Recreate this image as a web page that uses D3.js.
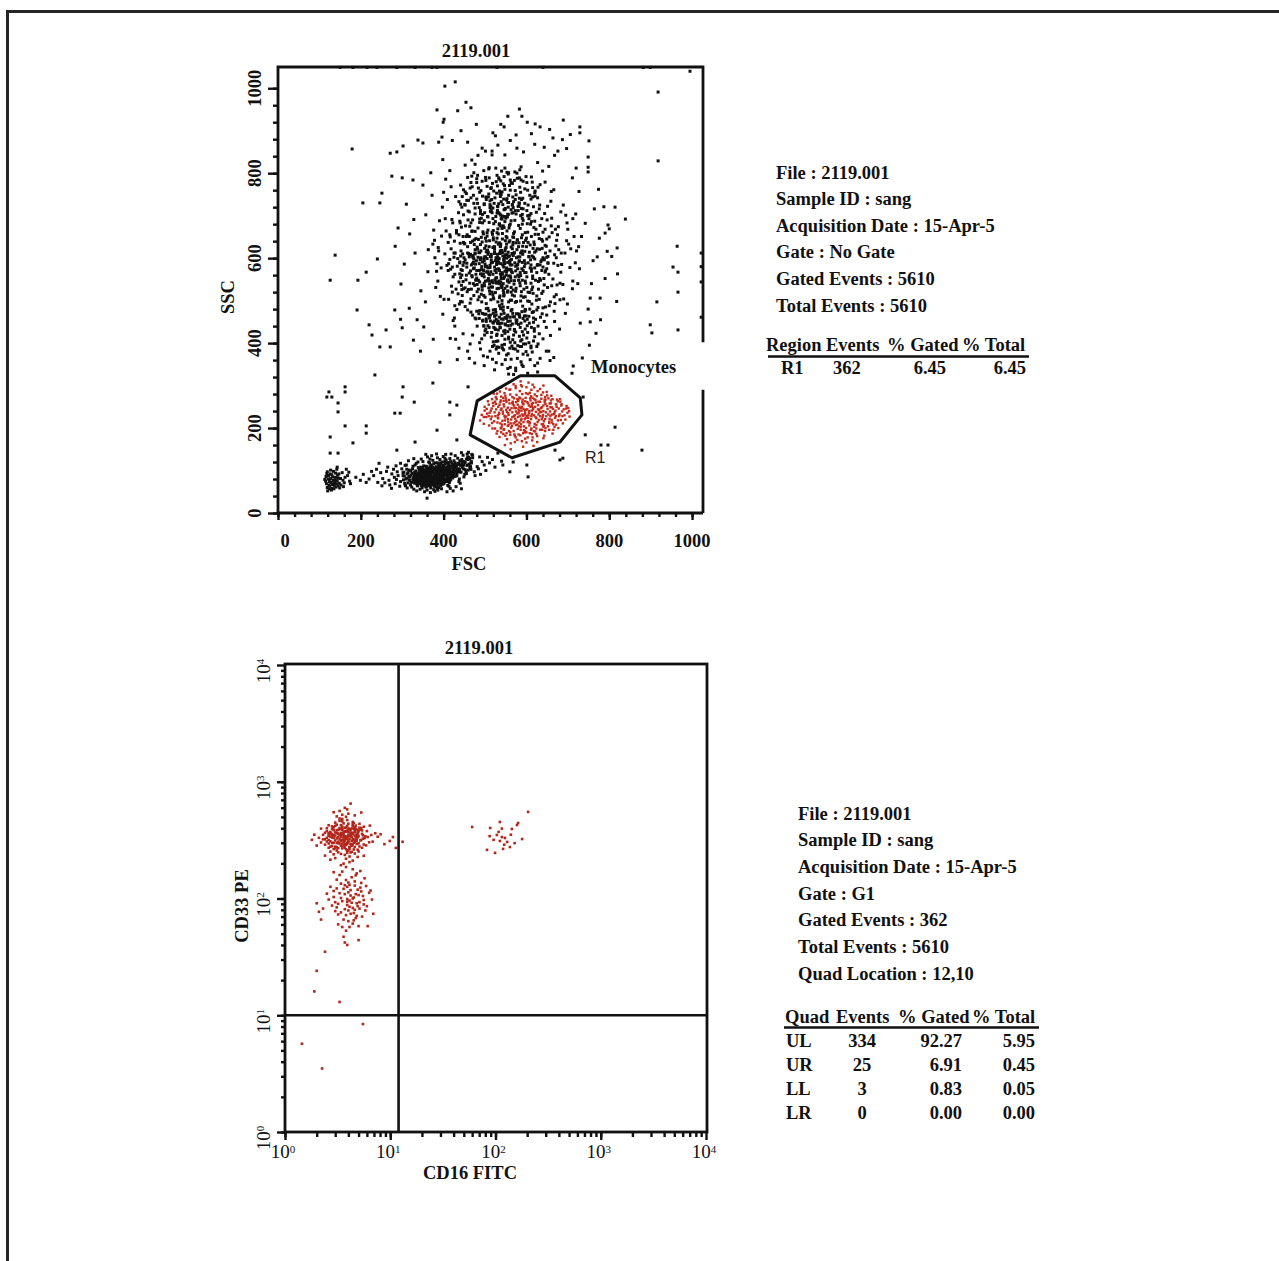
<!DOCTYPE html>
<html>
<head>
<meta charset="utf-8">
<script src="https://cdn.jsdelivr.net/npm/d3@7"></script>
<style>
  html, body { margin: 0; padding: 0; background: #fff; }
  svg { display: block; }
  text { font-family: "Liberation Serif", "Times New Roman", serif; }
</style>
</head>
<body>
<svg id="chart" width="1279" height="1261"></svg>
<script>
// ---------------- data ----------------
const fileName = "2119.001";

// FSC / SSC axis ticks
const fscTicks = [0, 200, 400, 600, 800, 1000];
const sscTicks = [0, 200, 400, 600, 800, 1000];

// log decades for CD16 / CD33
const decadeTicks = [1, 10, 100, 1000, 10000];
const decadeExponents = ["0", "1", "2", "3", "4"];

// R1 (monocyte) gate vertices, [FSC, SSC]
const r1Gate = [[464, 184], [481, 264], [585, 323], [669, 323], [730, 271], [734, 231], [681, 167], [565, 130]];

// quadrant markers [CD16, CD33]
const quadLocation = [12, 10];

// ungated events, flat [FSC, SSC, FSC, SSC, ...]
const granulocytes = [
512,578,547,603,498,541,566,622,531,497,585,566,476,612,553,534,520,648,604,589,
489,563,538,587,571,511,502,629,545,552,467,584,593,637,526,473,558,671,515,604,
481,521,540,618,577,583,509,546,556,590,495,662,622,548,533,529,462,603,569,649,
527,566,503,493,549,641,588,521,472,575,536,611,518,532,561,558,497,598,614,605,
544,485,507,577,580,603,490,617,529,544,563,626,475,536,551,571,612,569,521,681,
534,599,484,548,571,547,511,523,595,594,458,627,542,563,523,614,576,498,505,652,
548,529,494,591,616,623,537,676,468,559,559,605,513,466,584,542,528,589,499,535,
565,584,519,625,452,596,546,513,590,655,506,568,538,544,474,643,601,531,530,609,
557,558,486,509,524,571,568,637,501,603,633,584,541,492,517,547,579,575,492,580,
535,636,463,541,552,600,508,614,587,511,526,553,545,579,481,626,599,566,514,502,
570,612,498,556,532,588,555,466,517,661,606,604,477,586,541,535,523,626,563,573,
489,598,548,617,511,539,582,592,536,511,465,570,597,546,527,600,553,648,504,581,
539,557,575,529,493,638,519,514,561,595,542,658,484,527,609,577,528,541,551,625,
507,609,589,614,471,604,533,575,558,543,515,589,620,598,496,572,546,593,573,556,
522,627,480,553,565,611,538,483,501,546,592,571,529,660,554,520,487,613,611,541,
543,605,509,563,575,636,525,519,561,584,493,532,537,627,584,603,473,598,552,567,
516,545,600,627,531,602,564,501,499,623,547,587,478,562,520,665,586,559,535,540,
445,512,629,656,468,663,598,478,536,704,521,437,649,602,458,478,572,689,503,451,
612,651,439,589,555,441,487,684,643,537,530,712,476,459,590,694,451,634,567,462,
506,698,625,511,460,526,541,447,581,677,494,470,638,623,517,707,455,560,603,499,
563,688,483,502,646,570,527,456,442,617,577,453,510,684,620,687,491,649,548,423,
635,592,470,690,554,697,447,545,597,660,532,431,480,475,617,474,514,722,583,467,
462,651,544,676,608,519,497,441,640,661,525,686,456,588,571,432,604,637,487,692,
573,712,439,563,523,452,627,585,466,504,559,677,499,707,615,558,548,460,453,676,
591,487,533,728,474,632,652,588,507,482,565,706,486,458,631,503,541,670,460,611,
519,693,598,642,444,526,576,469,510,437,637,644,483,671,555,484,620,614,470,587,
546,714,502,468,642,552,465,609,586,700,530,448,610,680,491,515,567,650,449,601,
613,526,478,646,556,703,520,470,596,616,441,554,539,693,629,545,505,660,575,447,
457,521,590,680,528,418,648,628,494,683,560,461,623,668,472,540,542,699,602,456,
512,719,637,596,466,473,582,722,549,445,455,651,619,632,500,429,568,719,486,571,
632,621,520,507,448,637,593,508,535,681,476,610,606,693,557,410,491,694,645,567,
412,587,684,612,538,782,401,503,563,362,712,546,445,745,621,758,489,386,668,451,
395,652,557,801,702,633,427,440,614,379,469,768,690,504,383,569,527,354,651,722,
436,707,601,778,388,617,677,674,512,381,421,520,583,789,718,589,464,398,640,410,
547,771,398,468,695,701,456,736,625,392,379,601,533,376,660,757,415,655,578,364,
707,622,490,759,432,479,655,488,572,803,404,693,518,362,688,538,447,422,615,744,
386,546,603,372,480,778,673,642,541,350,425,612,728,575,501,790,644,705,458,381,
617,459,409,738,561,784,694,470,374,633,522,395,666,761,440,683,589,349,473,729,
700,668,392,510,548,812,658,418,417,574,506,367,633,773,452,756,721,617,568,387,
431,659,681,502,515,766,397,720,627,353,470,419,712,693,556,798,384,587,649,466,
494,746,606,401,423,453,685,585,533,789,376,666,659,734,462,364,587,815,711,528,
403,610,574,341,645,779,448,702,697,641,527,404,418,768,619,434,482,795,672,601,
549,361,390,688,733,651,509,810,628,767,437,388,593,419,699,492,459,711,661,694,
381,531,566,776,475,353,689,725,411,637,540,805,654,381,427,562,719,704,496,370,
612,791,445,497,674,537,523,337,400,755,596,763,466,742,705,578,555,340,434,599,
640,483,378,642,502,783,693,612,416,411,584,808,670,668,441,727,529,391,724,540,
463,675,621,746,394,577,557,327,683,709,487,401,639,805,406,664,592,345,715,651,
535,758,426,459,667,475,510,813,452,725,609,361,387,625,698,683,579,394,473,801,
652,589,498,347,420,691,587,784,726,627,443,536,563,778,680,433,408,583,631,716,
331,612,776,647,458,873,612,893,352,438,790,552,297,539,538,915,720,812,398,832,
749,480,372,748,643,861,318,657,483,842,806,604,561,877,345,523,697,858,421,877,
764,716,305,586,589,934,357,702,752,395,479,915,668,842,336,455,800,669,415,806,
283,628,531,866,761,594,369,801,706,891,344,381,593,850,820,563,452,819,730,447,
388,873,656,903,317,482,774,762,501,852,240,598,735,365,429,409,620,868,362,568,
787,721,466,954,328,691,711,789,555,934,391,355,742,682,296,456,627,825,517,843,
356,497,689,925,405,786,768,423,442,900,310,727,654,816,818,498,375,409,583,951,
727,757,476,821,350,772,795,616,525,888,290,671,666,366,433,361,757,540,401,927,
839,692,548,843,363,620,710,329,434,947,687,879,327,407,602,920,779,455,468,831
];

// densest part of the granulocyte cloud
const granulocyteCore = [
541,566,518,590,563,547,497,571,586,612,529,528,552,633,508,552,574,581,535,507,
490,601,559,574,523,621,601,556,546,592,481,538,568,525,532,657,512,583,590,590,
555,549,503,615,578,643,538,481,620,577,519,562,549,608,472,590,594,527,527,638,
564,597,487,544,545,519,609,631,515,596,535,571,571,662,500,508,582,556,548,686,
524,549,606,603,476,620,557,497,533,599,590,548,511,641,567,609,496,563,544,540,
579,585,521,504,553,664,486,587,615,552,537,628,563,520,506,619,585,670,528,574,
547,603,469,556,597,587,515,532,560,641,539,552,489,632,573,496,523,611,604,520,
552,577,498,594,581,627,535,488,518,656,566,566,509,530,591,609,542,645,480,571,
570,539,530,593,612,575,501,647,556,614,545,511,483,602,588,648,526,543,561,680,
514,568,598,541,537,617,576,601,493,525,551,560,623,617,531,669,505,599,566,513,
543,584,582,636,478,549,559,592,520,478,610,596,534,546,496,657,574,570,549,622,
527,601,563,531,501,580,589,575,541,692,512,516,577,620,485,613,554,546,618,638,
537,563,493,536,569,658,545,597,510,627,597,509,528,585,556,603,474,577,583,594,
519,542,603,661,548,569,488,596,565,479,532,633,581,548,507,666,542,613,591,628,
560,588,497,512,626,583,523,579,551,651,574,522,515,609,539,537,484,644,568,606,
533,591,589,617,507,548,555,523,470,606,546,672,596,566,521,625,562,554,500,586,
578,643,540,531,513,604,572,589,493,559,553,608,615,532,529,647,561,501,482,621,
547,556,600,647,525,594,564,568,503,640,586,499,536,612,491,573,558,638,544,524,
511,561,571,613,534,679,595,580,517,520,549,589,479,594,607,614,528,554,567,631,
556,572,499,603,585,535,520,643,541,500,611,584,538,633,504,567,579,560,550,694,
462,565,632,552,526,698,597,479,458,612,618,672,509,465,575,704,447,583,640,601,
535,461,592,689,470,640,629,527,513,710,561,452,454,549,603,700,487,476,645,630,
548,715,467,527,624,501,498,688,583,463,441,605,566,725,519,449,637,571,476,663,
596,475,530,722,456,579,612,686,503,481,580,712,465,637,634,548,544,456,489,705,
621,656,452,530,557,731,495,454,607,498,471,602,588,717,536,438,643,596,512,726,
464,494,631,646,523,463,573,738,444,560,616,517,486,719,599,464,457,655,562,442,
640,579,508,744,592,458,466,683,626,622,497,440,553,740,439,591,611,705,525,432,
473,512,583,729,450,634,628,484,539,750,485,469,617,602,459,690,571,430,604,725,
529,706,492,497,646,612,545,428,462,608,602,681,516,738,637,517,478,548,587,447,
555,703,503,457,625,566,469,664,591,741,531,446,442,573,613,492,498,726,649,645
];

// lower funnel, upper band and flanks of the granulocyte cloud
const granulocyteRim = [
532,452,571,431,498,468,607,447,548,409,589,474,516,425,634,461,560,388,525,479,
583,416,507,441,619,428,553,463,541,395,596,452,478,457,572,401,614,472,537,436,
566,445,520,403,601,412,488,476,628,440,555,427,579,381,511,459,643,451,546,470,
593,398,529,421,563,476,617,405,502,433,585,437,545,384,631,422,571,462,520,447,
557,414,606,463,481,440,540,457,588,392,625,478,515,414,574,426,549,443,599,380,
534,390,612,437,567,408,494,452,580,469,527,466,648,437,556,375,603,425,541,418,
576,448,509,476,622,456,548,430,589,408,470,466,565,393,531,405,611,393,584,461,
552,458,597,433,518,392,638,469,569,419,505,425,581,444,544,477,620,415,561,402,
536,446,608,480,573,386,499,419,590,427,555,451,628,398,524,435,567,470,547,397,
586,405,513,452,602,441,560,433,539,468,617,449,492,410,575,455,527,386,595,464,
512,735,548,762,476,718,583,741,529,795,455,752,601,712,538,701,493,781,566,726,
521,758,437,733,578,788,549,717,502,744,615,766,468,793,557,748,531,721,590,703,
484,765,545,739,608,748,462,709,527,780,573,759,498,728,632,725,553,802,515,713,
569,733,441,772,536,752,592,781,507,697,559,771,480,739,624,708,543,726,497,806,
586,755,524,742,451,726,563,714,505,769,611,739,534,786,472,748,580,722,547,698,
518,776,596,729,464,765,539,733,577,800,489,712,620,754,552,737,429,745,571,783,
509,751,556,720,480,787,603,760,533,707,460,736,588,738,526,812,617,721,544,775,
494,703,567,744,522,729,448,761,599,792,541,756,476,704,584,767,510,789,627,742,
555,731,487,755,530,770,608,701,466,778,575,749,519,718,592,716,444,720,546,792,
503,738,561,760,482,729,537,745,614,779,458,790,582,730,514,764,568,707,528,753,
428,612,445,571,652,604,664,551,437,655,633,677,419,534,658,497,441,498,671,629,
433,581,649,575,426,640,662,660,448,528,640,522,415,597,676,583,439,687,655,650,
423,556,668,608,446,610,637,693,412,503,681,541,431,665,646,485,452,486,660,676,
437,544,654,562,418,622,672,514,443,673,639,640,427,488,666,588,449,590,651,531,
421,579,678,620,435,516,645,668,416,650,669,493,440,635,657,617,425,602,683,567,
430,527,661,535,447,651,642,598,411,571,675,655,438,492,650,690,422,683,667,509
];

const lymphocytes = [
372,84,358,79,391,92,345,76,366,88,403,97,381,81,350,71,397,86,362,93,
377,77,414,101,339,82,385,95,369,73,356,87,408,89,392,79,347,90,374,99,
361,68,388,85,420,94,334,74,379,91,352,83,398,103,366,78,411,84,343,69,
383,72,370,95,426,106,355,80,393,88,337,87,405,78,364,101,380,66,417,92,
349,93,387,99,359,74,399,82,331,79,376,86,412,109,368,70,394,94,344,85,
385,80,362,82,429,99,353,66,402,92,371,104,340,78,396,73,419,87,357,97,
378,89,336,71,409,96,365,84,389,76,348,101,423,114,374,69,400,107,358,90,
341,84,382,98,415,83,351,77,393,67,367,92,329,88,406,101,376,80,433,103,
360,99,386,71,346,65,401,88,371,77,421,97,333,92,392,109,355,73,410,79,
379,102,343,80,398,91,363,64,431,110,350,88,387,83,368,108,413,94,338,75,
390,69,357,92,404,115,326,81,375,94,418,88,361,75,395,99,347,68,383,87,
436,104,354,85,407,74,372,97,339,94,398,112,366,67,425,93,386,104,352,72,
319,77,380,76,412,98,345,98,392,85,369,113,429,87,357,62,402,80,337,86,
384,94,363,87,441,112,349,81,395,72,374,107,416,104,330,70,388,113,356,101,
408,85,342,89,377,71,420,117,366,96,399,95,328,84,391,66,350,107,438,97,
371,82,385,118,346,73,411,91,360,109,394,86,324,93,379,63,427,107,354,94,
401,100,368,89,336,66,389,94,417,78,348,84,382,109,445,108,359,68,405,118,
373,75,322,72,396,104,364,99,432,95,341,101,387,74,413,111,353,79,376,116,
444,117,358,86,399,69,369,91,335,79,410,103,381,92,349,64,424,101,363,105,
392,90,330,96,378,84,414,72,346,92,403,121,372,67,437,114,357,83,386,79,
316,85,398,98,365,73,428,118,342,75,389,107,375,100,409,86,351,96,384,65,
419,96,361,80,333,83,396,80,370,111,446,121,355,69,407,106,338,91,393,118,
380,93,422,83,347,103,367,86,401,74,329,76,384,101,439,103,362,95,412,115,
354,76,391,103,373,80,431,88,344,94,397,120,368,63,415,99,358,110,386,85,
448,113,340,70,404,94,376,105,321,89,394,77,362,88,426,110,350,100,382,71,
408,108,366,102,435,100,344,87,389,96,371,74,417,121,355,91,398,83,332,81
];

// outer part of the lymphocyte blob
const lymphocytesOuter = [
387,88,363,95,412,79,341,83,396,104,375,66,427,98,352,111,405,92,369,59,
318,86,444,126,381,75,356,101,432,89,393,117,337,64,419,110,365,80,401,70,
452,119,347,93,388,60,309,80,425,123,372,109,410,65,333,99,458,132,384,97,
360,54,415,128,327,74,397,82,442,96,350,121,379,51,463,128,339,107,406,125,
314,95,390,72,436,117,358,61,421,83,306,70,374,124,448,104,343,56,399,133,
331,113,416,58,366,118,456,112,323,61,385,130,438,80,353,70,468,138,302,88,
395,57,346,127,428,135,377,93,311,103,451,91,361,132,414,74,335,52,467,121,
383,139,320,66,440,70,355,84,405,138,328,128,459,101,368,48,422,106,392,96,
344,77,411,119,304,96,447,136,376,55,430,62,338,120,461,115,357,138,400,111,
325,104,391,126,449,85,370,86,312,59,434,129,348,59,408,50,465,109,380,118,
336,92,418,90,362,72,443,142,307,112,386,54,429,114,351,88,470,130,393,64,
315,123,403,129,367,127,437,74,328,56,454,97,382,107,423,52,342,101,460,143,
398,68,317,78,445,113,371,135,334,117,413,63,359,106,439,123,387,79,308,64,
426,86,345,108,464,104,378,63,402,100,330,90,455,127,364,120,418,139,354,50,
390,112,321,99,433,103,373,99,443,57,340,72,409,84,466,118,384,58,326,110
];

const lymphTail = [
452,102,467,118,481,109,459,126,493,121,474,97,506,131,463,110,487,132,518,126,
455,93,498,113,470,136,531,141,484,104,511,118,461,131,476,88,540,122,502,100,
449,121,524,108,489,91,466,103,457,139,
296,74,311,82,283,69,302,95,268,77,290,88,307,66,275,92,253,81,299,104,
314,71,286,79,262,98,305,87,241,72,279,103,310,113,294,63,231,88,270,66,
288,97,248,95,317,101,258,71,303,78,220,80,281,84,312,92,265,108,296,117,
206,91,238,103,274,58,199,77,251,64,226,98,188,84,244,117,213,72,285,111
];

const debris = [
128,72,136,65,121,80,143,76,131,58,117,69,139,84,125,63,148,70,133,77,
122,88,140,61,129,54,146,82,115,75,135,71,152,66,126,92,119,60,138,78,
131,67,144,89,124,74,157,77,120,52,141,69,134,98,127,81,149,59,116,86,
137,73,162,84,130,90,145,64,123,66,155,95,142,103,118,93,160,71,135,57,
168,88,127,101,151,81,113,79,173,75,139,94,165,103,124,57,147,92,132,85,
171,96,158,62,119,97,175,69,143,108
];

const scatterEvents = [
403,1005,428,1015,454,967,384,949,399,920,396,885,918,991,918,829,179,857,546,909,
621,916,633,909,519,895,575,890,729,909,729,895,751,876,664,883,577,859,517,852,
493,859,676,852,338,878,350,871,271,847,287,850,302,864,749,838,749,814,749,803,
814,720,205,730,246,730,251,753,275,793,300,789,326,784,
150,1049,181,1049,215,1049,239,1049,287,1049,331,1049,372,1049,384,1049,529,1049,640,1049,882,1049,899,1049,995,1040,
138,607,126,548,193,548,213,567,191,478,220,443,227,419,246,391,261,431,234,325,
271,391,282,478,300,436,123,285,130,273,118,273,145,259,162,297,162,285,145,238,
302,297,300,273,282,235,295,235,964,628,966,567,966,520,915,497,899,443,903,424,
966,431,954,579,754,506,754,450,778,506,819,624,790,659,797,678,771,603,713,346,
737,273,415,261,432,254,459,297,415,231,374,306,329,261,
1022,612,1022,544,1022,461,1022,580,
126,179,162,205,181,165,213,205,213,188,126,141,145,141,331,167,287,148,384,195,
432,172,360,35,814,202,879,148,742,184,797,160,669,148,688,129,681,125,604,85,
601,113,568,120,560,97,543,113,780,160,
552,372,587,356,611,389,574,335,633,364,598,398,561,343,648,381,620,347,585,392,
603,329,542,388,657,359,627,332,569,326,592,374
];

// the 362 events inside R1, [FSC, SSC]
const r1Scatter = [
598,224,551,243,642,205,574,178,619,268,530,213,662,232,587,301,503,226,608,188,
566,259,683,219,545,196,627,287,592,156,520,252,655,196,581,236,614,171,539,274,
603,214,671,256,557,208,636,238,499,241,585,270,624,199,562,164,699,236,547,229,
613,252,579,198,650,277,528,187,596,241,641,176,517,268,672,208,559,290,605,230,
583,213,633,262,546,251,690,244,571,185,615,302,534,233,656,222,597,175,510,206,
622,226,561,279,645,193,591,258,488,218,676,263,553,174,608,212,569,303,637,249,
542,217,599,282,663,187,524,262,586,203,644,266,575,247,617,158,505,234,679,228,
594,195,556,235,630,219,612,290,538,199,661,249,580,267,548,160,704,227,569,211,
640,209,521,281,602,244,585,183,653,270,540,246,626,181,497,210,611,275,572,230,
574,294,662,213,530,193,616,247,588,222,685,256,551,265,633,196,516,227,600,166,
647,237,563,201,605,307,527,244,677,200,589,250,549,182,623,260,492,231,659,258,
583,240,640,284,555,221,612,199,536,286,668,237,578,172,604,258,518,199,688,211,
627,214,564,247,596,190,651,245,544,271,618,230,575,207,701,247,531,224,600,296,
561,190,636,269,590,232,509,255,645,221,567,262,624,186,548,209,674,267,594,204,
613,241,539,296,658,229,579,255,522,216,641,203,572,167,608,283,553,238,692,230,
587,218,631,243,545,264,665,196,598,271,514,241,620,210,566,226,650,252,535,179,
606,236,678,246,558,193,625,275,581,244,497,226,639,226,592,188,547,282,663,268,
573,222,618,193,535,255,597,263,655,212,562,211,680,232,523,237,611,221,584,287,
646,257,551,227,603,178,629,232,570,270,694,220,540,202,616,259,587,209,507,263,
633,292,578,234,562,150,657,239,526,273,601,229,643,182,555,248,672,256,590,262,
517,212,610,250,569,193,637,221,543,239,686,239,599,200,561,291,622,266,580,226,
652,204,532,250,593,245,615,178,548,218,669,224,576,278,604,216,504,245,641,240,
566,237,628,254,589,169,538,265,659,265,612,228,555,205,697,252,583,250,524,199,
619,203,574,299,640,231,544,186,606,253,665,209,531,230,597,236,682,262,559,258,
635,247,578,208,514,221,649,285,592,229,626,167,550,270,604,280,670,241,538,243,
586,196,661,219,570,253,613,233,499,250,645,273,557,231,621,192,580,264,703,240,
541,208,596,221,656,258,528,268,610,265,572,182,637,209,551,293,588,241,676,218,
620,279,563,220,600,190,534,236,673,250,583,272,648,228,546,197,616,244,509,228,
593,256,638,196,558,266,687,228,576,217,624,223,519,259,607,206,660,276,571,247,
548,225,629,262,590,280,667,233,537,211,613,186,575,239,641,253,526,257,599,243,
655,215,565,205,619,296,584,229,545,256,696,246,602,261,561,184,632,237,511,236,
578,268,646,200,593,214,529,281,664,245,607,240,552,262,624,207,570,228,681,268,
539,190,615,271,587,247,653,232,516,246,597,193,636,278,566,273,604,224,543,234,
671,228,581,185,621,250,556,215,642,216,589,298,525,228,609,270,567,256,658,249,
596,232,549,276,633,228,575,261,611,196,684,253,537,261,623,238,582,204,646,267,
560,242,607,214,668,203,532,223,591,267,628,244,552,188,644,261,573,214,613,257,
586,310,641,300
];

// the same 362 gated events, [CD16 FITC, CD33 PE]
const g1Markers = [
3.7,331,3.2,298,4.4,362,2.9,407,4.1,276,3.5,389,5.2,315,2.6,344,3.9,256,4.7,421,
3.3,352,4.0,309,2.8,281,4.9,371,3.6,440,3.1,327,5.6,290,4.3,338,2.5,378,3.8,264,
4.5,395,3.4,312,2.7,361,4.2,248,3.0,419,5.0,342,3.7,287,4.6,305,2.4,322,3.9,470,
3.2,270,4.8,327,3.5,356,2.9,239,4.1,384,5.4,358,3.6,318,2.6,296,4.4,453,3.3,392,
4.0,341,2.8,333,5.1,279,3.7,403,3.1,258,4.6,369,2.3,351,3.9,300,4.3,283,6.1,336,
3.4,425,4.7,311,2.7,309,3.8,374,5.3,401,3.0,346,4.1,229,3.5,295,2.5,400,4.9,262,
3.6,349,4.4,432,3.2,386,2.9,265,5.7,329,3.9,323,4.2,355,2.6,272,3.3,484,4.8,293,
3.7,272,5.0,376,2.8,415,4.0,397,3.4,241,4.5,318,3.1,364,6.3,303,3.8,339,2.4,289,
4.3,312,3.5,458,5.5,348,2.9,330,4.1,275,3.6,371,2.7,252,4.6,409,3.2,306,5.1,436,
3.9,381,2.6,365,4.4,290,3.3,321,4.8,351,3.0,278,4.0,437,5.9,285,3.7,310,2.8,395,
4.2,366,3.4,283,2.5,331,4.7,343,3.8,501,3.1,299,5.3,317,4.0,258,3.5,412,2.9,347,
4.5,263,3.6,334,2.2,302,4.9,388,3.2,360,4.1,323,5.6,412,3.7,236,2.7,372,4.3,398,
3.4,349,5.0,297,3.9,418,2.6,317,4.6,276,3.3,401,4.2,341,3.0,368,6.6,350,3.8,287,
4.4,357,2.8,299,3.5,269,5.2,389,3.1,429,4.0,303,2.4,366,4.7,327,3.7,377,3.2,249,
4.1,394,5.8,341,2.9,385,3.6,305,4.5,443,3.0,271,4.8,314,3.4,337,2.6,424,4.3,366,
3.8,325,3.1,385,5.4,272,2.7,339,4.2,294,3.5,480,4.9,356,3.9,246,2.3,321,4.6,383,
3.3,296,4.0,351,5.1,404,2.8,357,3.6,281,4.4,324,3.0,447,6.0,378,3.7,341,4.1,266,
2.5,308,4.7,396,3.4,365,3.9,294,5.5,326,3.2,337,4.3,251,2.9,300,4.6,346,3.5,391,
4.0,533,3.3,562,4.6,515,3.7,598,2.9,548,4.2,650,3.5,521,5.3,545,3.9,580,3.1,505,
4.4,211,3.0,222,3.6,199,4.9,227,2.7,215,4.1,205,5.6,232,3.4,193,2.4,233,3.8,219,
2.1,331,7.2,362,2.0,284,6.8,307,1.9,352,7.6,338,2.2,397,6.4,421,8.1,355,1.8,318,
3.6,360,4.3,287,3.0,314,4.9,334,3.8,405,2.7,278,4.5,300,3.3,462,5.0,253,4.0,370,
3.5,318,4.2,389,2.8,350,4.6,243,3.9,337,5.4,383,3.1,275,4.4,417,3.7,292,2.6,353,
3.9,88,4.5,102,3.4,76,5.1,93,4.2,118,3.1,84,4.8,71,3.7,109,5.6,97,4.0,64,
3.5,95,4.4,83,2.9,103,5.3,115,3.8,72,4.6,129,3.2,90,4.1,57,6.0,86,3.6,121,
4.3,92,3.0,78,5.0,107,3.9,99,4.7,68,3.4,134,5.8,79,4.0,113,2.8,87,4.4,61,
3.7,81,5.2,124,4.1,96,3.3,111,4.9,86,3.8,144,4.5,75,2.6,98,5.5,105,3.6,66,
4.2,106,3.1,122,4.8,91,4.0,79,6.3,112,3.5,57,4.6,140,3.9,94,5.4,70,2.9,116,
4.4,100,3.7,130,5.1,82,3.2,73,4.3,152,2.7,126,4.9,119,3.8,53,5.9,128,4.1,85,
3.4,101,4.7,109,3.0,93,5.6,89,4.0,137,3.6,47,4.5,65,3.3,159,6.7,98,4.2,74,
2.5,110,5.0,58,3.9,126,4.6,80,3.1,145,5.3,136,3.7,42,4.8,164,2.3,82,4.1,131,
3.5,170,4.4,178,2.9,168,5.2,172,6.9,74,2.2,66,3.8,186,4.7,158,3.2,60,5.7,149,
2.0,91,2.1,77,6.1,58,5.0,44,3.9,40,6.5,117,
1.9,16,3.3,13,2.4,35,2.0,24,
11.3,271,9.9,311,8.8,292,10.6,336,
60,410,89,402,110,452,160,426,164,443,143,394,103,350,115,336,123,330,110,311,
129,305,83,261,99,246,118,266,137,276,179,323,204,552,13.1,306,96,318,121,289,
107,372,140,352,88,342,152,298,115,397,
1.45,5.7,2.25,3.5,5.5,8.4
];

// statistics panels
const info1Lines = ["File : 2119.001", "Sample ID : sang", "Acquisition Date : 15-Apr-5",
  "Gate : No Gate", "Gated Events : 5610", "Total Events : 5610"];
const regionHeader = ["Region", "Events", "% Gated", "% Total"];
const regionRows = [["R1", "362", "6.45", "6.45"]];

const info2Lines = ["File : 2119.001", "Sample ID : sang", "Acquisition Date : 15-Apr-5",
  "Gate : G1", "Gated Events : 362", "Total Events : 5610", "Quad Location : 12,10"];
const quadHeader = ["Quad", "Events", "% Gated", "% Total"];
const quadRows = [["UL", "334", "92.27", "5.95"], ["UR", "25", "6.91", "0.45"],
  ["LL", "3", "0.83", "0.05"], ["LR", "0", "0.00", "0.00"]];

// ---------------- drawing ----------------
const pairs = flat => d3.range(0, flat.length, 2).map(i => [flat[i], flat[i + 1]]);
const INK = "#111";
const RED_TOP = "#c42a1c";
const RED_BOTTOM = "#b3261b";
const FONT = 18.5;

const svg = d3.select("#chart");

function label(g, txt, x, y, opts = {}) {
  return g.append("text")
    .attr("x", x).attr("y", y)
    .attr("text-anchor", opts.anchor || "start")
    .attr("font-size", opts.size || FONT)
    .attr("font-weight", opts.weight || 700)
    .attr("fill", opts.fill || INK)
    .text(txt);
}

// page border (left and top edges)
svg.append("path")
  .attr("d", "M7.5,1261V11.5H1279")
  .attr("fill", "none").attr("stroke", "#262626").attr("stroke-width", 3);

// ===== FSC vs SSC =====
const xF = d3.scaleLinear().domain([0, 1024]).range([278, 702]);
const yS = d3.scaleLinear().domain([0, 1050]).range([513, 67]);
const p1 = svg.append("g");

const blackEvents = [granulocytes, granulocyteCore, granulocyteRim, lymphocytes, lymphocytesOuter,
  lymphTail, debris, scatterEvents].flatMap(pairs);
const DOT = 3.0;
p1.append("g").selectAll("rect").data(blackEvents).join("rect")
  .attr("x", d => xF(d[0]) - DOT / 2).attr("y", d => yS(d[1]) - DOT / 2)
  .attr("width", DOT).attr("height", DOT).attr("fill", INK);

const DOT_R = 2.4;
p1.append("g").selectAll("rect").data(pairs(r1Scatter)).join("rect")
  .attr("x", d => xF(d[0]) - DOT_R / 2).attr("y", d => yS(d[1]) - DOT_R / 2)
  .attr("width", DOT_R).attr("height", DOT_R).attr("fill", RED_TOP);

// gate outline
p1.append("path")
  .attr("d", d3.line().x(d => xF(d[0])).y(d => yS(d[1])).curve(d3.curveLinearClosed)(r1Gate))
  .attr("fill", "none").attr("stroke", INK).attr("stroke-width", 3).attr("stroke-linejoin", "round");

// plot frame, right edge interrupted by the region label
const fR = 703;
p1.append("path")
  .attr("d", `M${xF(0)},${yS(0)}V67H${fR}V${yS(402)}M${fR},${yS(290)}V${yS(0)}M${xF(0)},${yS(0)}H${fR}`)
  .attr("fill", "none").attr("stroke", INK).attr("stroke-width", 2.8);

// ticks
function tickLines(g, axis) {
  g.call(axis).call(s => s.select(".domain").remove());
  g.selectAll("line").attr("stroke", INK).attr("stroke-width", 2.4);
}
p1.append("g").attr("transform", `translate(0,${yS(0)})`)
  .call(g => tickLines(g, d3.axisBottom(xF).tickValues(d3.range(0, 1001, 40)).tickSize(4).tickFormat("")));
p1.append("g").attr("transform", `translate(0,${yS(0)})`)
  .call(g => tickLines(g, d3.axisBottom(xF).tickValues(fscTicks).tickSize(7).tickFormat("")));
p1.append("g").attr("transform", `translate(${xF(0)},0)`)
  .call(g => tickLines(g, d3.axisLeft(yS).tickValues(d3.range(0, 1001, 40)).tickSize(5).tickFormat("")));
p1.append("g").attr("transform", `translate(${xF(0)},0)`)
  .call(g => tickLines(g, d3.axisLeft(yS).tickValues(sscTicks).tickSize(10).tickFormat("")));

fscTicks.forEach(v => label(p1, String(v), xF(v) + (v === 0 ? 7 : 0), 547, { anchor: "middle" }));
sscTicks.forEach(v => {
  label(p1, String(v), 0, 0, { anchor: "middle" })
    .attr("dy", "0.35em")
    .attr("transform", `translate(255,${yS(v)}) rotate(-90)`);
});

label(p1, fileName, 476, 57, { anchor: "middle" });
label(p1, "FSC", 469, 570, { anchor: "middle" });
label(p1, "SSC", 0, 0, { anchor: "middle" }).attr("dy", "0.35em")
  .attr("transform", "translate(228,297) rotate(-90)");
label(p1, "Monocytes", 591, 373);
label(p1, "R1", 585, 463, { weight: 400, size: 16, fill: "#222" })
  .style("font-family", "'Liberation Sans', Arial, sans-serif");

// statistics for R1
const s1 = svg.append("g");
info1Lines.forEach((t, i) => label(s1, t, 776, 178.5 + i * 26.6));
[766, 826, 887, 962].forEach((x, i) => label(s1, regionHeader[i], x, 350.5));
s1.append("line").attr("x1", 768).attr("x2", 1029).attr("y1", 356.5).attr("y2", 356.5)
  .attr("stroke", INK).attr("stroke-width", 2.6);
regionRows.forEach((r, j) => {
  const y = 374 + j * 24;
  label(s1, r[0], 781, y);
  label(s1, r[1], 833, y);
  label(s1, r[2], 946, y, { anchor: "end" });
  label(s1, r[3], 1026, y, { anchor: "end" });
});

// ===== CD16 vs CD33 =====
const xC = d3.scaleLog().domain([1, 1e4]).range([285, 706]);
const yC = d3.scaleLog().domain([1, 1e4]).range([1132, 665]);
const p2 = svg.append("g");

const DOT2 = 2.6;
p2.append("g").selectAll("rect").data(pairs(g1Markers)).join("rect")
  .attr("x", d => xC(d[0]) - DOT2 / 2).attr("y", d => yC(d[1]) - DOT2 / 2)
  .attr("width", DOT2).attr("height", DOT2).attr("fill", RED_BOTTOM);

// frame and quadrant markers
p2.append("rect").attr("x", xC(1)).attr("y", 664).attr("width", 707 - xC(1)).attr("height", yC(1) - 664)
  .attr("fill", "none").attr("stroke", INK).attr("stroke-width", 2.8);
p2.append("line").attr("x1", xC(quadLocation[0])).attr("x2", xC(quadLocation[0]))
  .attr("y1", 664).attr("y2", yC(1)).attr("stroke", INK).attr("stroke-width", 2.6);
p2.append("line").attr("x1", xC(1)).attr("x2", 707)
  .attr("y1", yC(quadLocation[1])).attr("y2", yC(quadLocation[1])).attr("stroke", INK).attr("stroke-width", 2.6);

const logMinor = d3.range(0, 4).flatMap(e => d3.range(1, 10).map(m => m * 10 ** e));
p2.append("g").attr("transform", `translate(0,${yC(1)})`)
  .call(g => tickLines(g, d3.axisBottom(xC).tickValues(logMinor).tickSize(5).tickFormat("")));
p2.append("g").attr("transform", `translate(0,${yC(1)})`)
  .call(g => tickLines(g, d3.axisBottom(xC).tickValues(decadeTicks).tickSize(8).tickFormat("")));
p2.append("g").attr("transform", `translate(${xC(1)},0)`)
  .call(g => tickLines(g, d3.axisLeft(yC).tickValues(logMinor).tickSize(4).tickFormat("")));
p2.append("g").attr("transform", `translate(${xC(1)},0)`)
  .call(g => tickLines(g, d3.axisLeft(yC).tickValues(decadeTicks).tickSize(8).tickFormat("")));

function powerLabel(g, exp) {
  const t = g.append("text").attr("text-anchor", "middle")
    .attr("font-size", 19).attr("font-weight", 400).attr("fill", INK);
  t.append("tspan").text("10");
  t.append("tspan").attr("dy", "-0.5em").attr("font-size", 11).text(exp);
  return t;
}
decadeTicks.forEach((v, i) => {
  powerLabel(p2, decadeExponents[i]).attr("x", xC(v) - 2).attr("y", 1158);
  powerLabel(p2, decadeExponents[i]).attr("dy", "0.35em")
    .attr("transform", `translate(263,${yC(v) + 6}) rotate(-90)`);
});

label(p2, fileName, 479, 654, { anchor: "middle" });
label(p2, "CD16 FITC", 470, 1179, { anchor: "middle" });
label(p2, "CD33 PE", 0, 0, { anchor: "middle" }).attr("dy", "0.35em")
  .attr("transform", "translate(242,906) rotate(-90)");

// quadrant statistics
const s2 = svg.append("g");
info2Lines.forEach((t, i) => label(s2, t, 798, 819.5 + i * 26.7));
[785, 836, 898, 972].forEach((x, i) => label(s2, quadHeader[i], x, 1022.5));
s2.append("line").attr("x1", 784).attr("x2", 1039).attr("y1", 1027.5).attr("y2", 1027.5)
  .attr("stroke", INK).attr("stroke-width", 2.6);
quadRows.forEach((r, j) => {
  const y = 1046.5 + j * 24;
  label(s2, r[0], 786, y);
  label(s2, r[1], 862, y, { anchor: "middle" });
  label(s2, r[2], 962, y, { anchor: "end" });
  label(s2, r[3], 1035, y, { anchor: "end" });
});
</script>
</body>
</html>
